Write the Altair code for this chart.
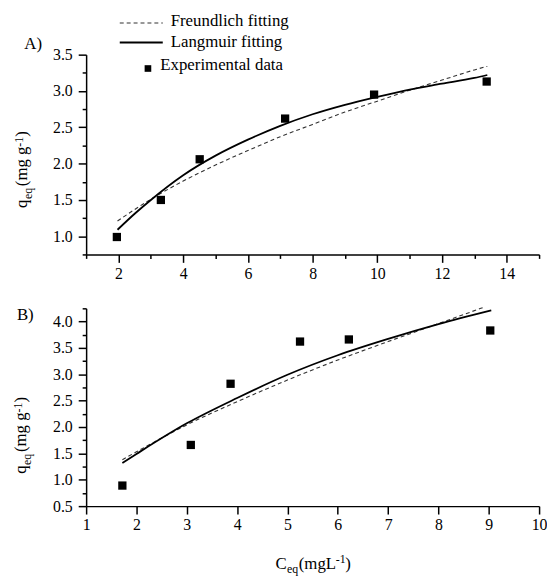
import altair as alt
import pandas as pd

# ---------------- data ----------------
# Panel A
A_exp_x = [1.95, 3.31, 4.51, 7.15, 9.90, 13.38]
A_exp_y = [0.99, 1.50, 2.06, 2.62, 2.95, 3.13]
A_lang_x = [1.97, 2.5, 3, 4, 5, 6, 7, 8, 9, 10, 11, 12, 13, 13.4]
A_lang_y = [1.09, 1.31, 1.50, 1.84, 2.11, 2.33, 2.52, 2.68, 2.81, 2.92, 3.02, 3.10, 3.18, 3.22]
A_freu_x = [1.97, 3, 4, 5, 6, 7, 8, 9, 10, 11, 12, 13, 13.4]
A_freu_y = [1.21, 1.51, 1.76, 1.98, 2.18, 2.37, 2.54, 2.71, 2.86, 3.01, 3.15, 3.29, 3.34]

# Panel B
B_exp_x = [1.72, 3.08, 3.87, 5.25, 6.22, 9.03]
B_exp_y = [0.89, 1.66, 2.82, 3.62, 3.66, 3.83]
B_lang_x = [1.72, 2, 3, 4, 5, 6, 7, 8, 9.05]
B_lang_y = [1.32, 1.49, 2.07, 2.55, 2.99, 3.36, 3.67, 3.95, 4.21]
B_freu_x = [1.72, 2, 3, 4, 5, 6, 7, 8, 8.9]
B_freu_y = [1.38, 1.53, 2.04, 2.48, 2.89, 3.27, 3.62, 3.96, 4.27]

# axis tick values
A_xticks = list(range(1, 16))
A_yticks = [0.75 + 0.25 * i for i in range(12)]
B_xticks = [1 + 0.5 * i for i in range(19)]
B_yticks = [0.5 + 0.25 * i for i in range(16)]

legend_labels = ["Freundlich fitting", "Langmuir fitting", "Experimental data"]

FONT = "Liberation Serif, Times New Roman, DejaVu Serif, serif"
W = 458


def one():
    return alt.Data(values=[{}])


def txt(s, x, y, size=17, angle=None):
    kw = dict(font=FONT, fontSize=size, align="left", baseline="alphabetic", color="black")
    if angle is not None:
        kw["angle"] = angle
    return alt.Chart(one()).mark_text(**kw).encode(
        x=alt.value(x), y=alt.value(y), text=alt.value(s)
    )


def axis(values, fmt, test, pad):
    return alt.Axis(
        values=values,
        format=fmt,
        labelExpr=f"({test}) ? datum.label : ''",
        tickSize={"condition": {"test": test, "value": 8}, "value": 4},
        grid=False,
        title=None,
        labelPadding=pad,
        labelFlush=False,
        labelOverlap=False,
        labelFont=FONT,
        labelFontSize=16,
        labelColor="black",
        domainColor="black",
        domainWidth=1.5,
        tickColor="black",
        tickWidth=1.5,
    )


def panel(exp_x, exp_y, lang_x, lang_y, freu_x, freu_y, xdom, ydom, xax, yax):
    X = lambda: alt.X("x:Q", scale=alt.Scale(domain=xdom, nice=False, zero=False), axis=xax)
    Y = lambda: alt.Y("y:Q", scale=alt.Scale(domain=ydom, nice=False, zero=False), axis=yax)
    freu = alt.Chart(pd.DataFrame({"x": freu_x, "y": freu_y})).mark_line(
        color="#333333", strokeWidth=1.1, strokeDash=[4, 3], interpolate="monotone"
    ).encode(x=X(), y=Y())
    lang = alt.Chart(pd.DataFrame({"x": lang_x, "y": lang_y})).mark_line(
        color="black", strokeWidth=1.8, interpolate="monotone"
    ).encode(x=X(), y=Y())
    pts = alt.Chart(pd.DataFrame({"x": exp_x, "y": exp_y})).mark_square(
        size=70, color="black", opacity=1
    ).encode(x=X(), y=Y())
    return [freu, lang, pts]


def ytitle(x0, y0):
    # rotated y-axis title: q_eq (mg g^-1)
    return [
        txt("q", x0, y0, 17, 270),
        txt("eq", x0 + 5, y0 - 9, 12, 270),
        txt("(mg g", x0, y0 - 22, 17, 270),
        txt("-1", x0 - 4, y0 - 62, 12, 270),
        txt(")", x0, y0 - 72, 17, 270),
    ]


# ---------------- panel A ----------------
A_layers = panel(
    A_exp_x, A_exp_y, A_lang_x, A_lang_y, A_freu_x, A_freu_y,
    [1, 15], [0.75, 3.5],
    axis(A_xticks, "d", "datum.value % 2 == 0", 3),
    axis(A_yticks, ".1f", "datum.value % 0.5 == 0", 6),
)
legend = [
    alt.Chart(one()).mark_rule(color="#333333", strokeWidth=1.1, strokeDash=[4, 3]).encode(
        x=alt.value(34), x2=alt.value(77.5), y=alt.value(-32)
    ),
    txt(legend_labels[0], 85.5, -29),
    alt.Chart(one()).mark_rule(color="black", strokeWidth=1.8).encode(
        x=alt.value(34), x2=alt.value(77.5), y=alt.value(-12.3)
    ),
    txt(legend_labels[1], 85.5, -8),
    alt.Chart(one()).mark_square(size=45, color="black", opacity=1).encode(
        x=alt.value(62.5), y=alt.value(14)
    ),
    txt(legend_labels[2], 75, 15.5),
]
A_chart = alt.layer(
    *A_layers, *legend, txt("A)", -62.5, -6), *ytitle(-60.2, 155)
).properties(width=W, height=202)

# ---------------- panel B ----------------
B_layers = panel(
    B_exp_x, B_exp_y, B_lang_x, B_lang_y, B_freu_x, B_freu_y,
    [1, 10], [0.5, 4.25],
    axis(B_xticks, "d", "datum.value % 1 == 0", 3),
    axis(B_yticks, ".1f", "datum.value % 0.5 == 0", 6),
)
xtitle = [
    txt("C", 191.5, 264),
    txt("eq", 203, 268, 12),
    txt("(mgL", 215, 264),
    txt("-1", 252.5, 257, 12),
    txt(")", 262, 264),
]
B_chart = alt.layer(
    *B_layers, txt("B)", -70, 12.3), *ytitle(-61, 167.3), *xtitle
).properties(width=W, height=200)

chart = (
    alt.vconcat(A_chart, B_chart, spacing=54.5, bounds="flush")
    .properties(padding={"left": 4, "top": 1, "right": 0, "bottom": 0})
    .configure_view(stroke=None)
    .configure_axis(
        domainColor="black",
        domainWidth=1.5,
        tickColor="black",
        tickWidth=1.5,
        labelFont=FONT,
        labelFontSize=16,
        labelColor="black",
    )
)

chart.save("out.html", embed_options={"renderer": "svg", "actions": False})
